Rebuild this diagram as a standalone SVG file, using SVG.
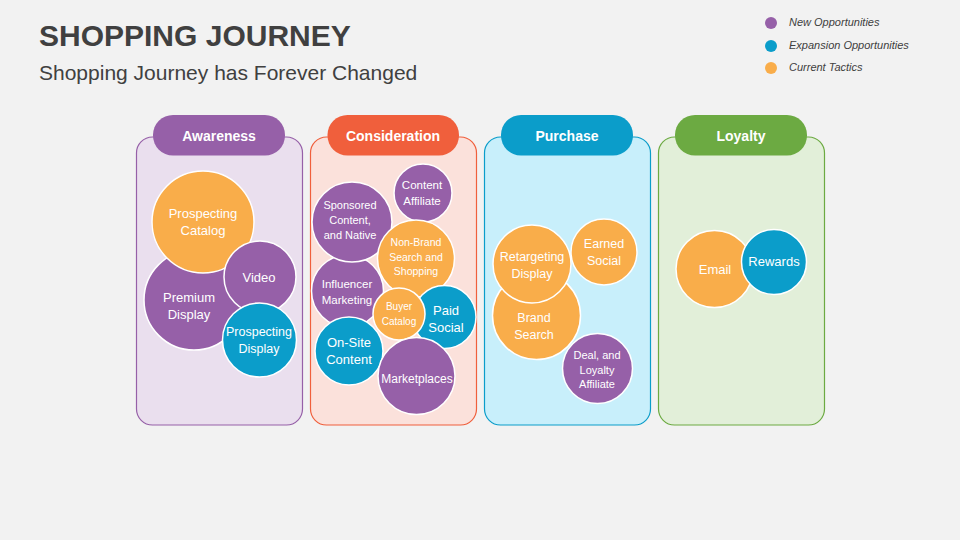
<svg xmlns="http://www.w3.org/2000/svg" width="960" height="540" viewBox="0 0 960 540">
<style>
text{font-family:"Liberation Sans",Arial,sans-serif}
.title{font-size:30px;font-weight:bold;fill:#404040}
.sub{font-size:21px;fill:#404040}
.leg{font-size:11px;font-style:italic;fill:#404040}
.hd{font-size:14px;font-weight:bold;fill:#fff;text-anchor:middle}
.ct{fill:#fff;text-anchor:middle}
.c{stroke:#fff;stroke-width:1.5}
.pu{fill:#9660A8}.bl{fill:#0B9DCA}.or{fill:#F9AD4A}
</style>
<rect width="960" height="540" fill="#F2F2F2"/>
<text class="title" x="39" y="46">SHOPPING JOURNEY</text>
<text class="sub" x="39" y="80">Shopping Journey has Forever Changed</text>
<g id="legend">
<circle cx="771" cy="23" r="6" class="pu"/><text class="leg" x="789" y="26">New Opportunities</text>
<circle cx="771" cy="46" r="6" class="bl"/><text class="leg" x="789" y="49">Expansion Opportunities</text>
<circle cx="771" cy="68" r="6" class="or"/><text class="leg" x="789" y="71">Current Tactics</text>
</g>
<g id="awareness">
<rect x="136.5" y="137" width="166" height="288" rx="16" fill="#EADFEE" stroke="#9660A8" stroke-width="1.2"/>
<rect x="153" y="115" width="132" height="40.5" rx="20" class="pu"/>
<text class="hd" x="219" y="141">Awareness</text>
<circle cx="194" cy="300" r="50" class="c pu"/>
<circle cx="203" cy="222" r="51" class="c or"/>
<circle cx="260" cy="277" r="36" class="c pu"/>
<circle cx="259.5" cy="340" r="37" class="c bl"/>
<g font-size="13"><text class="ct" x="203" y="217.5">Prospecting</text><text class="ct" x="203" y="234.5">Catalog</text>
<text class="ct" x="189" y="301.5">Premium</text><text class="ct" x="189" y="318.5">Display</text>
<text class="ct" x="259" y="281.5">Video</text></g>
<g font-size="12.5"><text class="ct" x="259" y="336">Prospecting</text><text class="ct" x="259" y="352.5">Display</text></g>
</g>
<g id="consideration">
<rect x="310.5" y="137" width="166" height="288" rx="16" fill="#FBE1DB" stroke="#F05F3C" stroke-width="1.2"/>
<rect x="327.5" y="115" width="131.5" height="40.5" rx="20" fill="#F05F3C"/>
<text class="hd" x="393" y="141">Consideration</text>
<circle cx="347.5" cy="291" r="36" class="c pu"/>
<circle cx="352" cy="222" r="40" class="c pu"/>
<circle cx="423" cy="193" r="29" class="c pu"/>
<circle cx="416" cy="258.5" r="38.5" class="c or"/>
<circle cx="444.5" cy="317" r="31.5" class="c bl"/>
<circle cx="399" cy="314" r="26" class="c or"/>
<circle cx="349" cy="351" r="34" class="c bl"/>
<circle cx="416.5" cy="376" r="38.5" class="c pu"/>
<g font-size="11"><text class="ct" x="350" y="209">Sponsored</text><text class="ct" x="350" y="224">Content,</text><text class="ct" x="350" y="238.5">and Native</text></g>
<g font-size="11.5"><text class="ct" x="422" y="189">Content</text><text class="ct" x="422" y="204.5">Affiliate</text></g>
<g font-size="10.5"><text class="ct" x="416" y="245.5">Non-Brand</text><text class="ct" x="416" y="260.5">Search and</text><text class="ct" x="416" y="274.5">Shopping</text></g>
<g font-size="11.5"><text class="ct" x="347" y="288">Influencer</text><text class="ct" x="347" y="304">Marketing</text></g>
<g font-size="10"><text class="ct" x="399" y="309.5">Buyer</text><text class="ct" x="399" y="324.5">Catalog</text></g>
<g font-size="13"><text class="ct" x="446" y="314.5">Paid</text><text class="ct" x="446" y="331.5">Social</text>
<text class="ct" x="349" y="346.5">On-Site</text><text class="ct" x="349" y="363.5">Content</text></g>
<text class="ct" font-size="12" x="417" y="383">Marketplaces</text>
</g>
<g id="purchase">
<rect x="484.5" y="137" width="166" height="288" rx="16" fill="#C8EFFB" stroke="#0B9DCA" stroke-width="1.2"/>
<rect x="501" y="115" width="132" height="40.5" rx="20" class="bl"/>
<text class="hd" x="567" y="141">Purchase</text>
<circle cx="536.5" cy="315.5" r="44" class="c or"/>
<circle cx="532" cy="264" r="39" class="c or"/>
<circle cx="604" cy="252" r="33" class="c or"/>
<circle cx="597.5" cy="368.5" r="35" class="c pu"/>
<g font-size="12.5"><text class="ct" x="532" y="260.5">Retargeting</text><text class="ct" x="532" y="277.5">Display</text>
<text class="ct" x="604" y="247.5">Earned</text><text class="ct" x="604" y="264.5">Social</text>
<text class="ct" x="534" y="321.5">Brand</text><text class="ct" x="534" y="338.5">Search</text></g>
<g font-size="11"><text class="ct" x="597" y="359">Deal, and</text><text class="ct" x="597" y="374">Loyalty</text><text class="ct" x="597" y="388">Affiliate</text></g>
</g>
<g id="loyalty">
<rect x="658.5" y="137" width="166" height="288" rx="16" fill="#E2EFD9" stroke="#6CAA42" stroke-width="1.2"/>
<rect x="675" y="115" width="132" height="40.5" rx="20" fill="#6CAA42"/>
<text class="hd" x="741" y="141">Loyalty</text>
<circle cx="714.5" cy="269" r="38.5" class="c or"/>
<circle cx="774" cy="262" r="32.5" class="c bl"/>
<g font-size="13"><text class="ct" x="715" y="273.5">Email</text><text class="ct" x="774" y="265.5">Rewards</text></g>
</g>
</svg>
